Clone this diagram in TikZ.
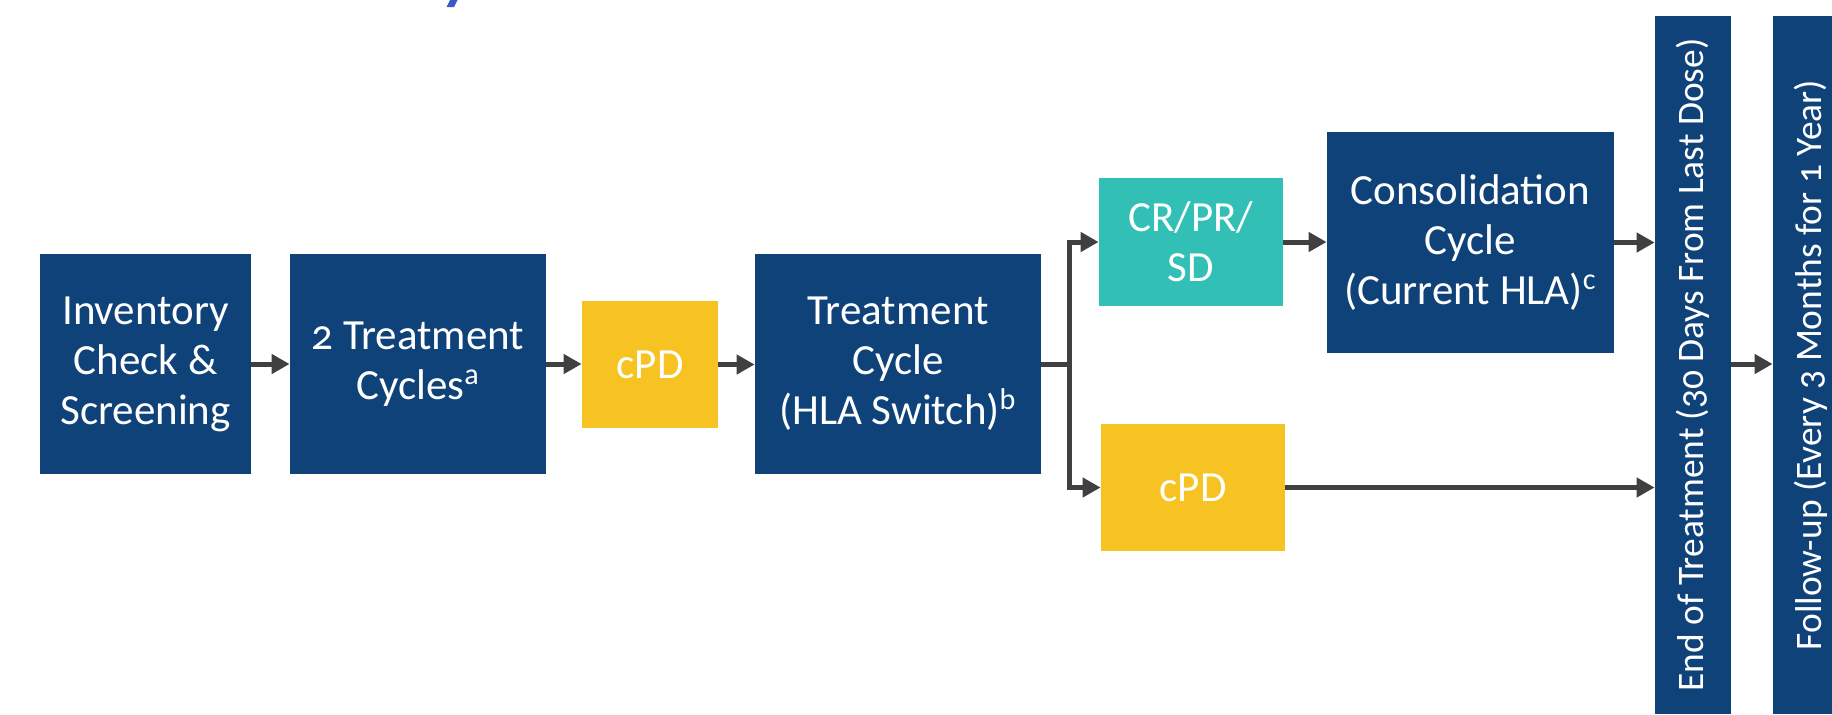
\documentclass[tikz,border=0pt]{standalone}
\usepackage{fontspec}
\setmainfont{Carlito}[Numbers=OldStyle]
\usetikzlibrary{arrows.meta}
\definecolor{navy}{HTML}{10427A}
\definecolor{teal}{HTML}{31BFB6}
\definecolor{amber}{HTML}{F6C322}
\definecolor{arrowgray}{HTML}{404040}
\definecolor{titleblue}{HTML}{3A5BC7}
\tikzset{
  box/.style={fill=#1, draw=none, text=white, align=center, inner sep=0pt,
    font=\fontsize{21.5pt}{25pt}\selectfont},
  bar/.style={fill=navy, draw=none, text=white, inner sep=0pt, rotate=90,
    font=\fontsize{18.7pt}{23pt}\selectfont},
  link/.style={draw=arrowgray, line width=2.5pt},
  arr/.style={link, -{Triangle[length=9pt,width=9.5pt]}},
}
\begin{document}
\begin{tikzpicture}[x=0.5pt,y=-0.5pt]
\useasboundingbox (0,0) rectangle (1832,714);
\clip (0,0) rectangle (1832,714);
% fragment of the heading lettering above
\fill[titleblue] (450,0) -- (457.5,0) -- (454,7) -- (446.5,7) -- cycle;

% main sequence
\node[box=navy, minimum width=105.5pt, minimum height=110pt] (inv) at (145.5,364)
  {Inventory\\Check \&\\Screening};
\node[box=navy, minimum width=128pt, minimum height=110pt] (tc) at (418,364)
  {2 Treatment\\Cycles\textsuperscript{a}};
\node[box=amber, minimum width=68pt, minimum height=63.5pt] (pd1) at (650,364.5)
  {cPD};
\node[box=navy, minimum width=143pt, minimum height=110pt] (hla) at (898,364)
  {Treatment\\Cycle\\(HLA Switch)\textsuperscript{b}};

% response branches
\node[box=teal, minimum width=92pt, minimum height=64pt] (resp) at (1191,242)
  {CR/PR/\\SD};
\node[box=navy, minimum width=143.5pt, minimum height=110.5pt] (cons) at (1470.5,242.5)
  {Consolidation\\Cycle\\(Current HLA)\textsuperscript{c}};
\node[box=amber, minimum width=92pt, minimum height=63.5pt] (pd2) at (1193,487.5)
  {cPD};

% end of treatment and follow-up (rotated: north is the left side, south the right)
\node[bar, minimum width=349pt, minimum height=38pt] (eot) at (1693,365)
  {End of Treatment (30 Days From Last Dose)};
\node[bar, minimum width=349pt, minimum height=38pt] (fu) at (1811,365)
  {Follow-up (Every 3 Months for 1 Year)};

% connectors
\coordinate (split) at (1069,364);
\draw[arr] (inv.east) -- (tc.west);
\draw[arr] (tc.east) -- (pd1.west |- tc.east);
\draw[arr] (pd1.east) -- (hla.west |- pd1.east);
\draw[link] (hla.east) -- (split);
\draw[arr] (split) |- (resp.west);
\draw[arr] (split) |- (pd2.west);
\draw[arr] (resp.east) -- (resp.east -| cons.west);
\draw[arr] (cons.east) -- (cons.east -| eot.north);
\draw[arr] (pd2.east) -- (pd2.east -| eot.north);
\draw[arr] (eot.south |- split) -- (fu.north |- split);
\end{tikzpicture}
\end{document}
